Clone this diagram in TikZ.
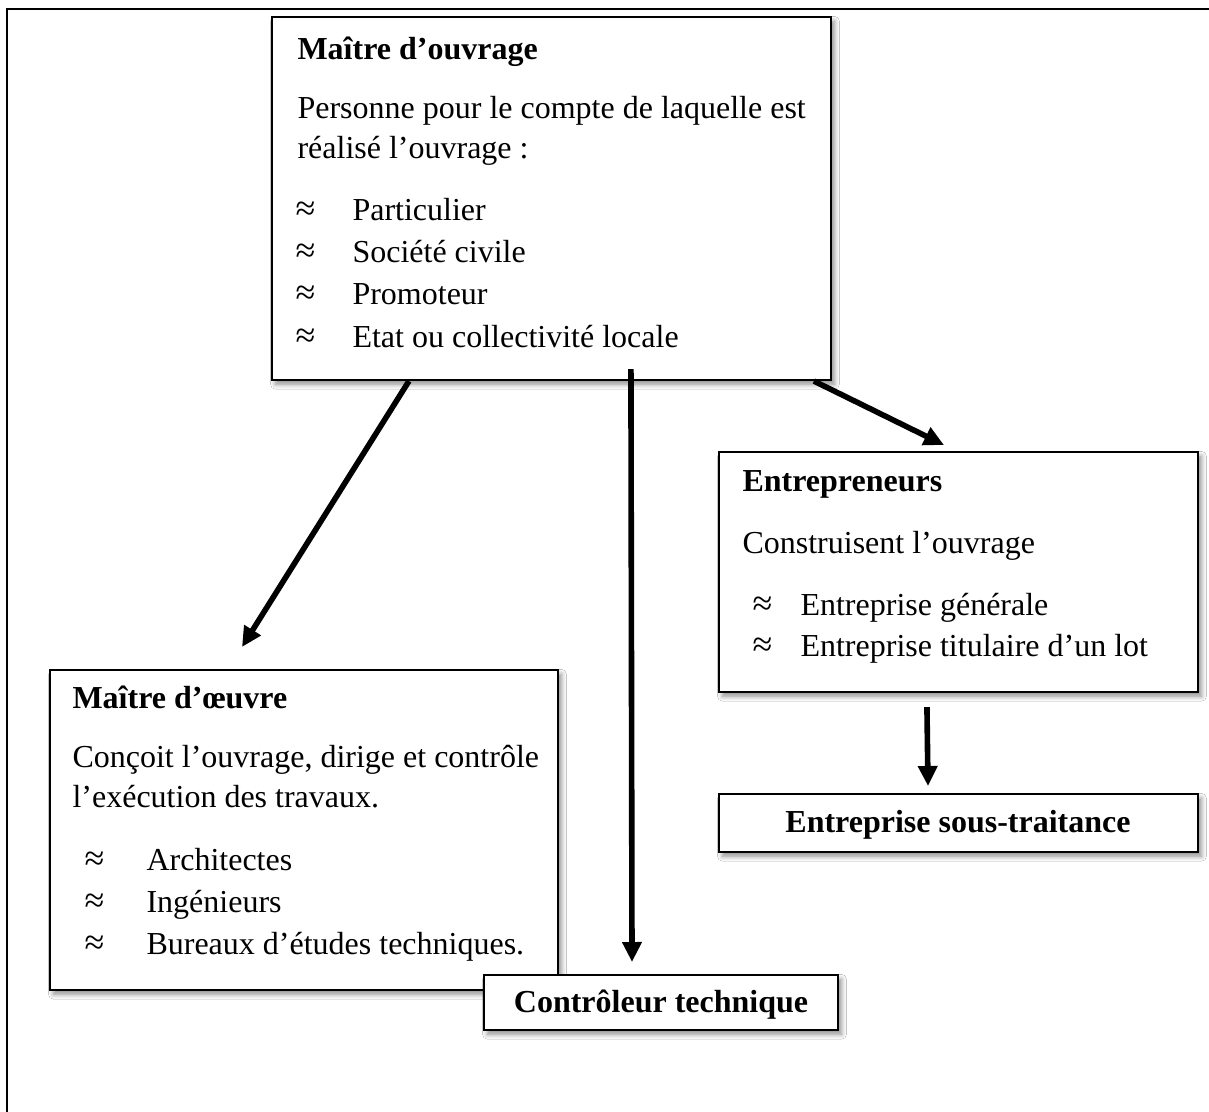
\documentclass[tikz,border=0pt]{standalone}
\usepackage{fontspec}
\setmainfont{Liberation Serif}
\usetikzlibrary{arrows.meta,shadows.blur,fit,calc}
\newcommand{\apx}{{\fontsize{13.5}{14}\selectfont ≈}}
\begin{document}
\begin{tikzpicture}[x=0.375pt,y=-0.375pt,
  box/.style={draw=black,line width=0.8pt,fill=white,inner sep=0pt,
    blur shadow={shadow xshift=1.3pt,shadow yshift=-1.6pt,shadow blur steps=6,shadow opacity=45}},
  txt/.style={anchor=base west,inner sep=0pt,font=\fontsize{12}{14}\selectfont},
  btxt/.style={anchor=base west,inner sep=0pt,font=\fontsize{12}{14}\selectfont\bfseries},
  ctxt/.style={anchor=base,inner sep=0pt,font=\fontsize{12}{14}\selectfont\bfseries},
  conn/.style={line width=2.1pt,-{Triangle[length=7.5pt,width=7pt]}},
  frameline/.style={line width=1pt}]
\useasboundingbox (0,0) rectangle (1209,1112);
\fill[white] (0,0) rectangle (1209,1112);
% outer frame (only top and left edges visible)
\draw[frameline] (7,1120) -- (7,9) -- (1220,9);

% boxes
\node[box, fit={(272,17) (831,380)}] (mo) {};
\node[box, fit={(719,452) (1198,692)}] (ent) {};
\node[box, fit={(719,794) (1198,852)}] (sst) {};
\node[box, fit={(50,670) (558,990)}] (moe) {};
\node[box, fit={(484,975) (838,1030)}] (ct) {};

% Maitre d'ouvrage texts
\node[btxt] (mo1) at (297,60) {Maître d’ouvrage};
\node[txt] (mo2) at (297,119) {Personne pour le compte de laquelle est};
\node[txt] (mo3) at (297,159) {réalisé l’ouvrage :};
\node[txt] (mob1) at (295,221) {\apx};
\node[txt] (mot1) at (352,221) {Particulier};
\node[txt] (mob2) at (295,263) {\apx};
\node[txt] (mot2) at (352,263) {Société civile};
\node[txt] (mob3) at (295,305) {\apx};
\node[txt] (mot3) at (352,305) {Promoteur};
\node[txt] (mob4) at (295,347) {\apx};
\node[txt] (mot4) at (352,347) {Etat ou collectivité locale};

% Entrepreneurs texts
\node[btxt] (en1) at (742,491) {Entrepreneurs};
\node[txt] (en2) at (742,553) {Construisent l’ouvrage};
\node[txt] (enb1) at (752,615) {\apx};
\node[txt] (ent1) at (800,615) {Entreprise générale};
\node[txt] (enb2) at (752,656) {\apx};
\node[txt] (ent2) at (800,656) {Entreprise titulaire d’un lot};

% Maitre d'oeuvre texts
\node[btxt] (oe1) at (72,708) {Maître d’œuvre};
\node[txt] (oe2) at (72,767) {Conçoit l’ouvrage, dirige et contrôle};
\node[txt] (oe3) at (72,807) {l’exécution des travaux.};
\node[txt] (oeb1) at (84,870) {\apx};
\node[txt] (oet1) at (146,870) {Architectes};
\node[txt] (oeb2) at (84,912) {\apx};
\node[txt] (oet2) at (146,912) {Ingénieurs};
\node[txt] (oeb3) at (84,954) {\apx};
\node[txt] (oet3) at (146,954) {Bureaux d’études techniques.};

% single-line boxes
\node[ctxt] (sstt) at (958,832) {Entreprise sous-traitance};
\node[ctxt] (ctt) at (661,1012) {Contrôleur technique};

% arrow end points
\coordinate (tA) at (242,647);
\coordinate (tB) at (632,962);
\coordinate (tC) at (944,445);
\coordinate (tD) at (928,786);

\draw[conn] ($(mo.south west)+(138,0)$) -- (tA);
\draw[conn] ($(mo.south west)+(360,-12)$) -- (tB);
\draw[conn] ($(mo.south west)+(543,0)$) -- (tC);
\draw[conn] ($(ent.south west)+(209,14)$) -- (tD);
\end{tikzpicture}
\end{document}
